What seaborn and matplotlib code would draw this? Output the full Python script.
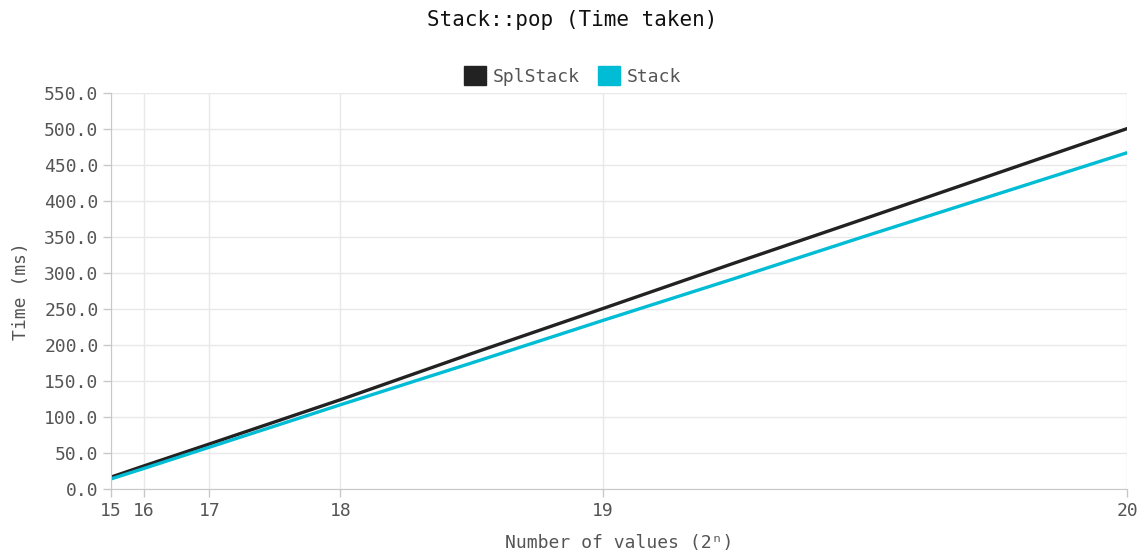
import numpy as np
import pandas as pd
import seaborn as sns
import matplotlib.pyplot as plt
from matplotlib.patches import Patch

# number of values pushed/popped (2^n), and time taken in ms
exponents = [15, 16, 17, 18, 19, 20]
sizes = [32768, 65536, 131072, 262144, 393216, 524288, 655360, 786432, 917504, 1048576]
splstack_ms = [16.5, 32.0, 62.5, 124.0, 188.0, 250.5, 313.5, 375.5, 438.0, 500.5]
stack_ms = [14.0, 28.5, 58.0, 117.0, 175.0, 234.0, 292.0, 351.0, 409.0, 467.0]

colors = {"SplStack": "#222222", "Stack": "#00bcd4"}

df = pd.concat([
    pd.DataFrame({"size": sizes, "ms": splstack_ms, "impl": "SplStack"}),
    pd.DataFrame({"size": sizes, "ms": stack_ms, "impl": "Stack"}),
])

sns.set_style("white")
plt.rcParams["font.family"] = ["DejaVu Sans Mono"]
text_color = "#555555"

fig = plt.figure(figsize=(11.45, 5.52), dpi=100)
ax = fig.add_axes([111 / 1145, 1 - 489 / 552, (1127 - 111) / 1145, (489 - 93) / 552])

sns.lineplot(data=df, x="size", y="ms", hue="impl", palette=colors,
             linewidth=2.4, ax=ax, legend=False)

ax.set_xlim(2 ** 15, 2 ** 20)
ax.set_ylim(0, 550)
ax.set_xticks([2 ** n for n in exponents])
ax.set_xticklabels([str(n) for n in exponents])
ax.set_yticks(np.arange(0, 551, 50))
ax.set_yticklabels([f"{v:.1f}" for v in np.arange(0, 551, 50)])

ax.grid(True, color="#e8e8e8", linewidth=1)
ax.set_axisbelow(True)
for side in ["top", "right"]:
    ax.spines[side].set_visible(False)
for side in ["left", "bottom"]:
    ax.spines[side].set_color("#c8c8c8")
ax.tick_params(axis="both", colors="#c8c8c8", labelcolor=text_color,
               labelsize=13, length=6, width=1, bottom=True, left=True)
ax.tick_params(axis="x", pad=3)
ax.tick_params(axis="y", pad=3)

ax.set_xlabel("Number of values (2ⁿ)", fontsize=13, color=text_color, va="center")
ax.xaxis.set_label_coords(0.5, -(543 - 489) / 396)
ax.set_ylabel("Time (ms)", fontsize=13, color=text_color, labelpad=10)

fig.suptitle("Stack::pop (Time taken)", fontsize=15, color="#111111", y=1 - 20 / 552, va="center")

handles = [Patch(facecolor=c, edgecolor=c) for c in colors.values()]
fig.legend(handles, list(colors.keys()), loc="center", ncol=2,
           bbox_to_anchor=(0.5, 1 - 76 / 552), frameon=False, fontsize=13,
           labelcolor=text_color, handlelength=1.2, handleheight=1.2,
           handletextpad=0.4, columnspacing=1.0)

fig.savefig("out.png", dpi=100)
plt.close(fig)
